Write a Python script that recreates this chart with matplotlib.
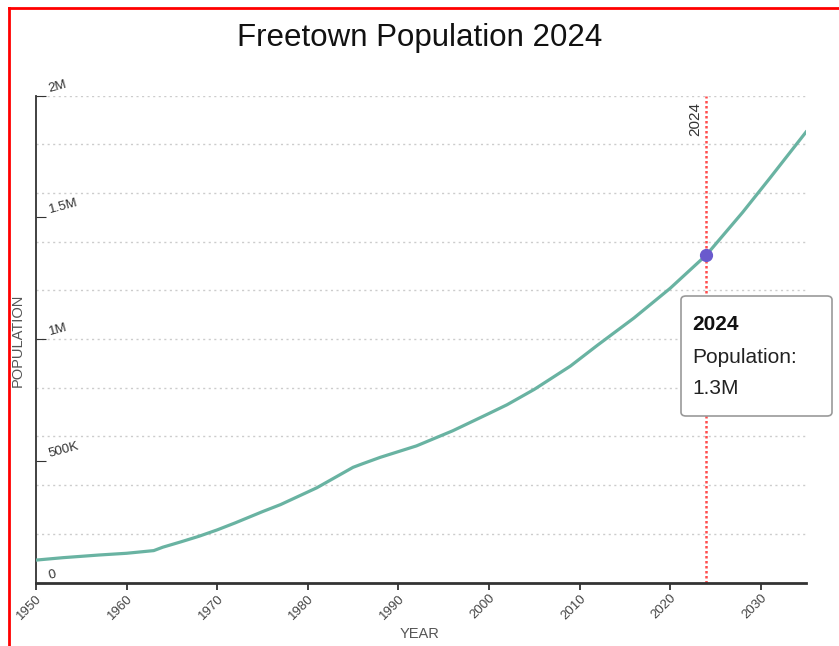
import matplotlib
matplotlib.use('Agg')
from matplotlib import pyplot as plt
from matplotlib.patches import FancyBboxPatch
from matplotlib.lines import Line2D

plt.rcParams['font.family'] = ['Liberation Sans', 'DejaVu Sans']

# data
years = [1950, 1953, 1957, 1960, 1963, 1964, 1966, 1968, 1970, 1972, 1975,
         1977, 1981, 1985, 1986, 1988, 1992, 1996, 2000, 2002, 2005, 2009,
         2012, 2016, 2020, 2024, 2028, 2031, 2035]
population = [92000, 102000, 113000, 120000, 131000, 145000, 167000, 190000,
              216000, 245000, 291000, 320000, 389000, 473000, 487000, 514000,
              561000, 623000, 694000, 730000, 793000, 889000, 975000,
              1086000, 1208000, 1345000, 1520000, 1660000, 1850000]
y_ticks = [0, 500000, 1000000, 1500000, 2000000]
x_ticks = [1950, 1960, 1970, 1980, 1990, 2000, 2010, 2020, 2030]
grid_lines = [200000, 400000, 600000, 800000, 1000000, 1200000, 1400000,
              1600000, 1800000, 2000000]
highlight_year = 2024
highlight_pop = 1345000


def fmt(v):
    if v == 0:
        return '0'
    if v >= 1e6:
        return f'{v/1e6:g}M'
    return f'{v/1e3:g}K'


W, H = 839, 646
fig = plt.figure(figsize=(W / 100, H / 100), dpi=100)
ax = fig.add_axes([36 / W, 1 - 582.5 / H, (806 - 36) / W, (582.5 - 95.5) / H])

for g in grid_lines:
    ax.axhline(g, color='#cccccc', linestyle=(0, (1.5, 2.5)), linewidth=1, zorder=0)

ax.plot(years, population, color='#69b3a2', linewidth=2.3, zorder=3,
        solid_joinstyle='round')

ax.axvline(highlight_year, color='#ff4d4d', linestyle=(0, (1, 1)), linewidth=1.8, zorder=2)
ax.plot([highlight_year], [highlight_pop], 'o', color='#6a5acd', markersize=8.5, zorder=4)

ax.set_xlim(1950, 2035)
ax.set_ylim(0, 2000000)

for s in ['top', 'right']:
    ax.spines[s].set_visible(False)
ax.spines['left'].set_color('#333333')
ax.spines['bottom'].set_color('#333333')
ax.spines['left'].set_linewidth(1.3)
ax.spines['bottom'].set_linewidth(2)

ax.set_xticks(x_ticks)
ax.set_xticklabels([str(x) for x in x_ticks], rotation=45, ha='right',
                   rotation_mode='anchor', fontsize=9.5, color='#444444')
ax.tick_params(axis='x', length=5, width=1.3, color='#333333', pad=2)

ax.set_yticks(y_ticks)
ax.set_yticklabels([])
ax.tick_params(axis='y', direction='in', length=7, color='#333333')
for v in y_ticks:
    ax.text(1951.6, v + 4000, fmt(v), rotation=15, fontsize=9.5, color='#333333',
            ha='left', va='bottom', rotation_mode='anchor')

ax.text(highlight_year - 0.5, 1975000, str(highlight_year), rotation=90,
        ha='right', va='top', fontsize=11, color='#333333')

fig.text(420 / W, 1 - 634 / H, 'YEAR', ha='center', va='center',
         fontsize=10.5, color='#555555')
fig.text(18 / W, 1 - 340 / H, 'POPULATION', ha='center', va='center',
         rotation=90, fontsize=10.5, color='#555555')

fig.text(420 / W, 1 - 38 / H, 'Freetown Population 2024', ha='center', va='center',
         fontsize=22.5, color='#111111')

# tooltip box
box = FancyBboxPatch((681 / W, 1 - 416 / H), (832 - 681) / W, (416 - 296) / H,
                     boxstyle='round,pad=0,rounding_size=0.006',
                     transform=fig.transFigure, facecolor='white',
                     edgecolor='#999999', linewidth=1.2, zorder=10)
fig.add_artist(box)
fig.text(692 / W, 1 - 324 / H, '2024', fontsize=15, fontweight='bold',
         va='center', ha='left', color='#111111', zorder=11)
fig.text(692 / W, 1 - 357 / H, 'Population:', fontsize=15,
         va='center', ha='left', color='#222222', zorder=11)
fig.text(692 / W, 1 - 389 / H, fmt(1300000), fontsize=15,
         va='center', ha='left', color='#222222', zorder=11)

# red frame from the screenshot
fig.add_artist(Line2D([9 / W, 9 / W], [0, 1 - 8 / H], color='red', linewidth=2,
                      transform=fig.transFigure))
fig.add_artist(Line2D([9 / W, 1], [1 - 8 / H, 1 - 8 / H], color='red', linewidth=2,
                      transform=fig.transFigure))

fig.savefig('out.png', dpi=100)
